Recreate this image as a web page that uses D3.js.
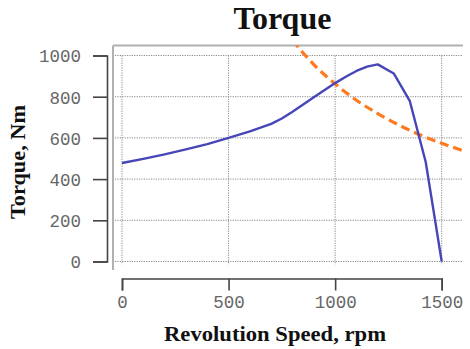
<!DOCTYPE html>
<html><head><meta charset="utf-8">
<script src="https://cdn.jsdelivr.net/npm/d3@7"></script>
<style>html,body{margin:0;padding:0;background:#fff;}svg{display:block;}</style>
</head><body>
<svg id="chart" width="470" height="349"></svg>
<script>
// Data
const torqueRpm = [0, 100, 200, 300, 400, 500, 600, 700, 750, 800, 900, 1000, 1050, 1100, 1150, 1200, 1275, 1350, 1425, 1500];
const torqueNm  = [478, 498, 520, 544, 570, 600, 632, 668, 694, 727, 797, 866, 897, 925, 946, 957, 913, 780, 483, 0];
const limitRpm = [800, 850, 900, 1000, 1100, 1200, 1300, 1400, 1500, 1600];
const limitNm  = [1075, 1012, 956, 862, 783, 718, 662, 614, 574, 538];
const xTicks = [0, 500, 1000, 1500];
const yTicks = [0, 200, 400, 600, 800, 1000];
const titleText = "Torque";
const xTitle = "Revolution Speed, rpm";
const yTitle = "Torque, Nm";

const svg = d3.select("#chart");
const x = d3.scaleLinear().domain([0, 1500]).range([122, 441.7]);
const y = d3.scaleLinear().domain([0, 1000]).range([261.5, 55.5]);
const plot = {left: 113, top: 45.5, right: 463, bottom: 270};

// clip
svg.append("defs").append("clipPath").attr("id", "clip")
  .append("rect").attr("x", plot.left).attr("y", plot.top)
  .attr("width", plot.right - plot.left).attr("height", plot.bottom - plot.top);

// grid
const grid = svg.append("g");
grid.selectAll(".hg").data(yTicks).join("line")
  .attr("x1", plot.left + 2).attr("x2", plot.right)
  .attr("y1", d => y(d)).attr("y2", d => y(d))
  .attr("stroke", "#8a8a8a").attr("stroke-width", 1).attr("stroke-dasharray", "1.2,1.2");
grid.selectAll(".vg").data(xTicks).join("line")
  .attr("x1", d => x(d)).attr("x2", d => x(d))
  .attr("y1", y(1000)).attr("y2", y(0) + 3)
  .attr("stroke", "#8a8a8a").attr("stroke-width", 1).attr("stroke-dasharray", "1.2,1.2");

// frame (top & left)
svg.append("line").attr("x1", plot.left).attr("x2", plot.right).attr("y1", plot.top).attr("y2", plot.top)
  .attr("stroke", "#b0b0b0").attr("stroke-width", 2);
svg.append("line").attr("x1", plot.left).attr("x2", plot.left).attr("y1", plot.top).attr("y2", plot.bottom)
  .attr("stroke", "#b0b0b0").attr("stroke-width", 2);

// series
const line = d3.line().x(d => x(d[0])).y(d => y(d[1]));
const g = svg.append("g").attr("clip-path", "url(#clip)");
g.append("path").datum(limitRpm.map((r, i) => [r, limitNm[i]]))
  .attr("d", d3.line().x(d => x(d[0])).y(d => y(d[1])).curve(d3.curveMonotoneX))
  .attr("fill", "none").attr("stroke", "#FF7A1E").attr("stroke-width", 3.2)
  .attr("stroke-dasharray", "9,5");
g.append("path").datum(torqueRpm.map((r, i) => [r, torqueNm[i]]))
  .attr("d", line).attr("fill", "none").attr("stroke", "#4646B8").attr("stroke-width", 2.4)
  .attr("stroke-linejoin", "round");

const fmt = d3.format("d");
// y axis
const yAxisG = svg.append("g").attr("transform", "translate(107,0)");
yAxisG.call(d3.axisLeft(y).tickValues(d3.range(0, 1001, 50)).tickSize(7).tickFormat(""));
yAxisG.call(d3.axisLeft(y).tickValues(yTicks).tickSize(14).tickPadding(12).tickFormat(fmt));
yAxisG.selectAll("path.domain").attr("stroke", "#444").attr("stroke-width", 1.6);
yAxisG.selectAll("line").attr("stroke", "#444").attr("stroke-width", 1.6);
yAxisG.selectAll("text").attr("font-family", "'Liberation Mono', 'Courier New', monospace")
  .attr("font-size", 17.5).attr("fill", "#666").attr("dy", "0.36em");

// x axis
const xAxisG = svg.append("g").attr("transform", "translate(0,278.5)");
xAxisG.call(d3.axisBottom(x).tickValues(d3.range(0, 1501, 100)).tickSize(5).tickFormat(""));
xAxisG.call(d3.axisBottom(x).tickValues(xTicks).tickSize(12).tickPadding(14).tickFormat(fmt));
xAxisG.selectAll("path.domain").attr("stroke", "#444").attr("stroke-width", 1.6);
xAxisG.selectAll("line").attr("stroke", "#444").attr("stroke-width", 1.6);
xAxisG.selectAll("text").attr("font-family", "'Liberation Mono', 'Courier New', monospace")
  .attr("font-size", 17.5).attr("fill", "#666").attr("dy", "0.2em");

// titles
svg.append("text").attr("x", 282.5).attr("y", 28.5).attr("text-anchor", "middle")
  .attr("font-family", "'Liberation Serif', 'Times New Roman', serif").attr("font-weight", "bold")
  .attr("font-size", 32).attr("fill", "#111").text(titleText);
svg.append("text").attr("x", 275).attr("y", 340.5).attr("text-anchor", "middle")
  .attr("font-family", "'Liberation Serif', 'Times New Roman', serif").attr("font-weight", "bold")
  .attr("font-size", 21.5).attr("textLength", 222).attr("lengthAdjust", "spacingAndGlyphs")
  .attr("fill", "#111").text(xTitle);
svg.append("text").attr("transform", "translate(25,162) rotate(-90)").attr("text-anchor", "middle")
  .attr("font-family", "'Liberation Serif', 'Times New Roman', serif").attr("font-weight", "bold")
  .attr("font-size", 20).attr("textLength", 114).attr("lengthAdjust", "spacingAndGlyphs")
  .attr("fill", "#111").text(yTitle);
</script>
</body></html>
